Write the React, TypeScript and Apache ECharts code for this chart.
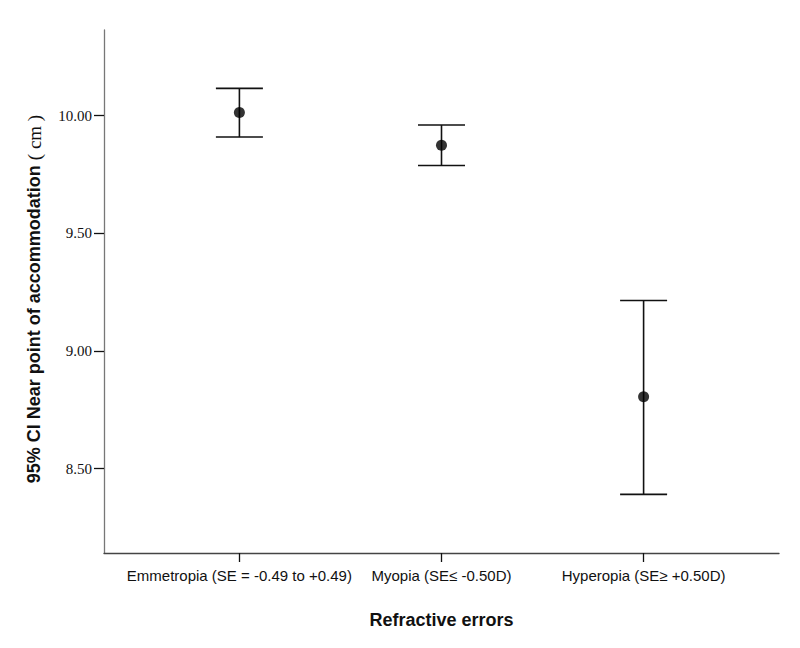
import React, { useEffect, useRef } from "react";
import * as echarts from "echarts";

const categories = [
  "Emmetropia (SE = -0.49 to +0.49)",
  "Myopia (SE\u2264 -0.50D)",
  "Hyperopia (SE\u2265 +0.50D)",
];
const positions = [1, 2, 3];
const means = [10.013, 9.874, 8.805];
const lowers = [9.909, 9.788, 8.39];
const uppers = [10.116, 9.96, 9.214];
const yTicks = [8.5, 9.0, 9.5, 10.0];
const xTitle = "Refractive errors";
const yTitleMain = "95% CI Near point of accommodation ";
const yTitleUnit = "( cm )";

export default function App() {
  const ref = useRef<HTMLDivElement>(null);
  useEffect(() => {
    if (!ref.current) return;
    const chart = echarts.init(ref.current, undefined, { renderer: "svg" });
    const errData = positions.map((p, i) => [p, lowers[i], uppers[i]]);
    const option: any = {
      animation: false,
      backgroundColor: "#fff",
      grid: { left: 104, right: 21, top: 30, bottom: 95 },
      graphic: [
        {
          type: "text",
          x: 34,
          y: 299,
          rotation: Math.PI / 2,
          style: {
            text: `{a|${yTitleMain}}{b|${yTitleUnit}}`,
            align: "center",
            verticalAlign: "middle",
            rich: {
              a: {
                fontFamily: "Liberation Sans, Arial, sans-serif",
                fontWeight: "bold",
                fontSize: 18,
                fill: "#111",
              },
              b: {
                fontFamily: "Liberation Serif, Times New Roman, serif",
                fontSize: 19,
                fill: "#111",
              },
            },
          },
        },
      ],
      xAxis: {
        type: "value",
        min: 0.33,
        max: 3.67,
        splitLine: { show: false },
        axisLine: { show: true, lineStyle: { color: "#444", width: 1.3 } },
        axisTick: {
          show: true,
          customValues: positions,
          length: 9,
          lineStyle: { color: "#111", width: 1.3 },
        },
        axisLabel: {
          customValues: positions,
          formatter: (v: number) => categories[Math.round(v) - 1] ?? "",
          color: "#111",
          fontFamily: "Liberation Sans Narrow, Liberation Sans, sans-serif",
          fontSize: 15,
          margin: 15,
        },
        name: xTitle,
        nameLocation: "middle",
        nameGap: 58,
        nameTextStyle: {
          fontFamily: "Liberation Sans, Arial, sans-serif",
          fontWeight: "bold",
          fontSize: 18,
          color: "#111",
        },
      },
      yAxis: {
        type: "value",
        min: 8.141,
        max: 10.364,
        splitLine: { show: false },
        axisLine: { show: true, lineStyle: { color: "#777", width: 1.3 } },
        axisTick: {
          show: true,
          customValues: yTicks,
          length: 10,
          lineStyle: { color: "#111", width: 1.3 },
        },
        axisLabel: {
          customValues: yTicks,
          formatter: (v: number) => v.toFixed(2),
          color: "#111",
          fontFamily: "Liberation Serif, Times New Roman, serif",
          fontSize: 15,
          margin: 12,
        },
      },
      series: [
        {
          type: "custom",
          data: errData,
          renderItem: (params: any, api: any) => {
            const x = api.value(0);
            const lo = api.coord([x, api.value(1)]);
            const hi = api.coord([x, api.value(2)]);
            const half = 23.5;
            const style = { stroke: "#111", lineWidth: 1.6 };
            return {
              type: "group",
              children: [
                { type: "line", shape: { x1: lo[0], y1: lo[1], x2: hi[0], y2: hi[1] }, style },
                { type: "line", shape: { x1: lo[0] - half, y1: lo[1], x2: lo[0] + half, y2: lo[1] }, style },
                { type: "line", shape: { x1: hi[0] - half, y1: hi[1], x2: hi[0] + half, y2: hi[1] }, style },
              ],
            };
          },
          z: 2,
        },
        {
          type: "scatter",
          data: positions.map((p, i) => [p, means[i]]),
          symbol: "circle",
          symbolSize: 11,
          itemStyle: { color: "#000" },
          z: 3,
        },
      ],
    };
    chart.setOption(option);
    return () => chart.dispose();
  }, []);
  return <div ref={ref} style={{ width: 800, height: 648, margin: -8 }} />;
}
